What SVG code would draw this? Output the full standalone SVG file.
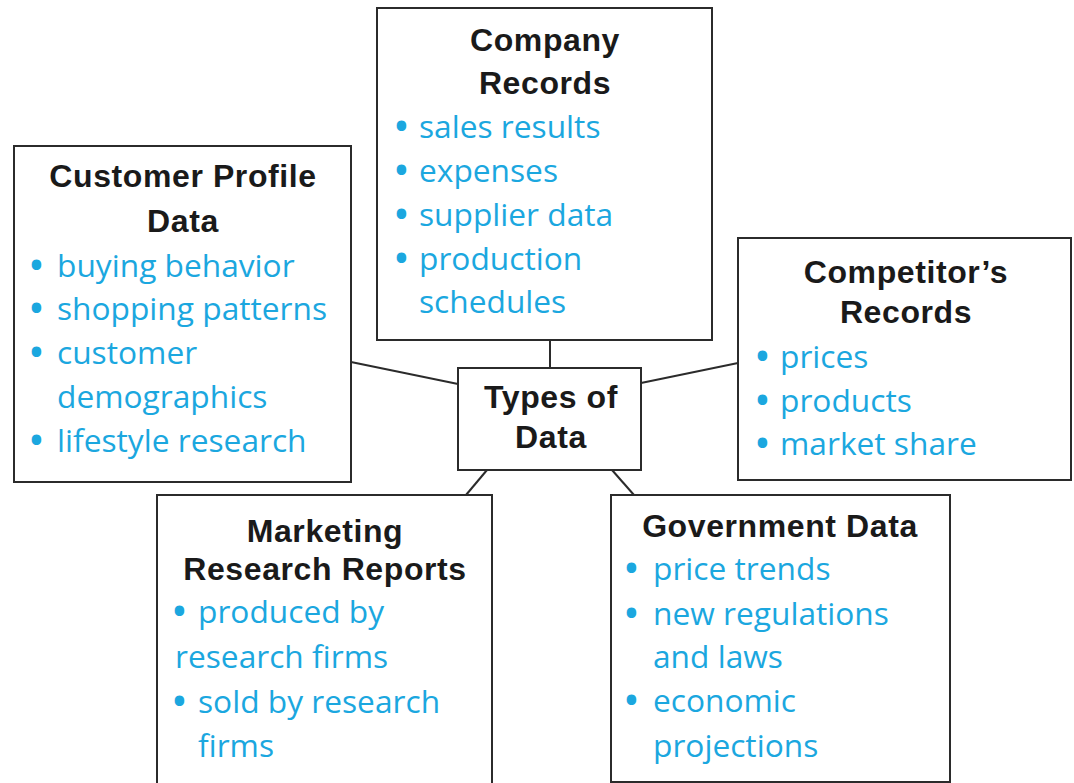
<svg xmlns="http://www.w3.org/2000/svg" width="1074" height="783" viewBox="0 0 1074 783">
<style>
.box{fill:#fff;stroke:#2b2b2b;stroke-width:2}
.h{font-family:"Liberation Sans",Arial,sans-serif;font-weight:bold;font-size:32px;letter-spacing:0.6px;fill:#1a1a1a;text-anchor:middle}
.t{font-family:"Open Sans","Noto Sans",sans-serif;font-size:31.7px;fill:#1ba7df}
.b{font-weight:bold;font-size:34px}
.c{stroke:#2b2b2b;stroke-width:2;fill:none}
</style>
<rect width="1074" height="783" fill="#fff"/>
<g id="connectors">
<line class="c" x1="550" y1="340" x2="550" y2="368"/>
<line class="c" x1="351" y1="362" x2="458" y2="384"/>
<line class="c" x1="641" y1="383" x2="738" y2="363"/>
<line class="c" x1="487" y1="470" x2="466" y2="495"/>
<line class="c" x1="612" y1="470" x2="634" y2="495"/>
</g>
<g id="company">
<rect class="box" x="377" y="8" width="335" height="332"/>
<text class="h" x="545" y="51">Company</text>
<text class="h" x="545" y="94">Records</text>
<text class="t" x="395" y="138"><tspan class="b">•</tspan><tspan x="419">sales results</tspan></text>
<text class="t" x="395" y="182"><tspan class="b">•</tspan><tspan x="419">expenses</tspan></text>
<text class="t" x="395" y="226"><tspan class="b">•</tspan><tspan x="419">supplier data</tspan></text>
<text class="t" x="395" y="270"><tspan class="b">•</tspan><tspan x="419">production</tspan></text>
<text class="t" x="419" y="313">schedules</text>
</g>
<g id="customer">
<rect class="box" x="14" y="146" width="337" height="336"/>
<text class="h" x="183" y="187">Customer Profile</text>
<text class="h" x="183" y="232">Data</text>
<text class="t" x="30" y="277"><tspan class="b">•</tspan><tspan x="57">buying behavior</tspan></text>
<text class="t" x="30" y="320"><tspan class="b">•</tspan><tspan x="57">shopping patterns</tspan></text>
<text class="t" x="30" y="364"><tspan class="b">•</tspan><tspan x="57">customer</tspan></text>
<text class="t" x="57" y="408">demographics</text>
<text class="t" x="30" y="452"><tspan class="b">•</tspan><tspan x="57">lifestyle research</tspan></text>
</g>
<g id="center">
<rect class="box" x="458" y="368" width="183" height="102"/>
<text class="h" x="551" y="408">Types of</text>
<text class="h" x="551" y="448">Data</text>
</g>
<g id="competitor">
<rect class="box" x="738" y="238" width="333" height="242"/>
<text class="h" x="906" y="283">Competitor’s</text>
<text class="h" x="906" y="323">Records</text>
<text class="t" x="756" y="368"><tspan class="b">•</tspan><tspan x="780">prices</tspan></text>
<text class="t" x="756" y="412"><tspan class="b">•</tspan><tspan x="780">products</tspan></text>
<text class="t" x="756" y="455"><tspan class="b">•</tspan><tspan x="780">market share</tspan></text>
</g>
<g id="marketing">
<rect class="box" x="157" y="495" width="335" height="300"/>
<text class="h" x="325" y="542">Marketing</text>
<text class="h" x="325" y="580">Research Reports</text>
<text class="t" x="173" y="623"><tspan class="b">•</tspan><tspan x="198">produced by</tspan></text>
<text class="t" x="175" y="668">research firms</text>
<text class="t" x="173" y="713"><tspan class="b">•</tspan><tspan x="198">sold by research</tspan></text>
<text class="t" x="198" y="757">firms</text>
</g>
<g id="government">
<rect class="box" x="611" y="495" width="339" height="287"/>
<text class="h" x="780" y="537">Government Data</text>
<text class="t" x="625" y="580"><tspan class="b">•</tspan><tspan x="653">price trends</tspan></text>
<text class="t" x="625" y="625"><tspan class="b">•</tspan><tspan x="653">new regulations</tspan></text>
<text class="t" x="653" y="668">and laws</text>
<text class="t" x="625" y="712"><tspan class="b">•</tspan><tspan x="653">economic</tspan></text>
<text class="t" x="653" y="757">projections</text>
</g>
</svg>
